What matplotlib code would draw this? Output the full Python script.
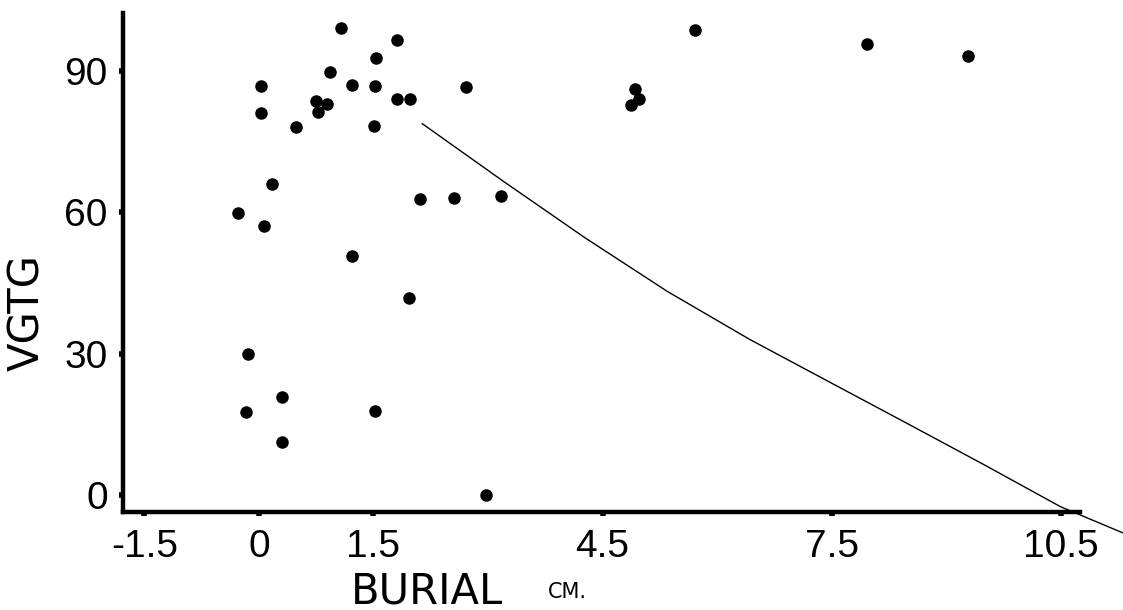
import matplotlib.pyplot as plt

# burial depth (cm) and VGTG for each sample
burial = [1.08, 1.81, 1.53, 0.93, 0.03, 1.22, 1.52, 1.81, 1.98, 0.75,
          0.89, 0.77, 0.03, 1.51, 0.48, 2.71, 5.71, 4.92, 4.98, 4.87,
          7.96, 9.28, 0.17, -0.27, 0.07, 2.11, 2.55, 3.17, 1.22, 1.97,
          -0.14, 0.30, -0.17, 1.52, 0.30, 2.98]
vgtg = [99.1, 96.5, 92.8, 89.7, 86.7, 87.0, 86.9, 84.1, 84.1, 83.7,
        82.9, 81.3, 81.0, 78.4, 78.0, 86.6, 98.6, 86.2, 84.1, 82.7,
        95.8, 93.1, 66.0, 59.9, 57.1, 62.9, 63.1, 63.5, 50.7, 41.8,
        29.9, 20.8, 17.7, 17.8, 11.3, 0.0]

# hand-fitted curve, runs past the end of the x axis
curve_x = [2.14, 3.2, 4.27, 5.35, 6.43, 7.47, 8.5, 9.5, 10.5, 11.31]
curve_y = [78.8, 66.6, 54.6, 43.2, 33.0, 24.0, 15.1, 6.4, -2.5, -8.0]

xticks = [-1.5, 0, 1.5, 4.5, 7.5, 10.5]
xtick_labels = ['-1.5', '0', '1.5', '4.5', '7.5', '10.5']
yticks = [0, 30, 60, 90]
ytick_labels = ['0', '30', '60', '90']

tick_font = ['Liberation Sans', 'DejaVu Sans']

fig = plt.figure(figsize=(11.23, 6.10), dpi=100)
ax = fig.add_axes([0.1095, 0.1607, 0.852, 0.818])

ax.plot(burial, vgtg, 'o', color='black', markersize=8)
ax.plot(curve_x, curve_y, '-', color='black', linewidth=1.0, clip_on=False)

ax.set_xlim(-1.78, 10.75)
ax.set_ylim(-3.6, 102.3)

for side in ['top', 'right']:
    ax.spines[side].set_visible(False)
for side in ['left', 'bottom']:
    ax.spines[side].set_linewidth(3.2)

ax.set_xticks(xticks)
ax.set_xticklabels(xtick_labels, family=tick_font, fontsize=28)
ax.set_yticks(yticks)
ax.set_yticklabels(ytick_labels, family=tick_font, fontsize=28)
ax.tick_params(axis='both', direction='out', length=3, width=4, color='black')
ax.tick_params(axis='x', pad=9)
ax.tick_params(axis='y', pad=8)

fig.text(27.5 / 1123, 1 - 313 / 610, 'VGTG', rotation=90, ha='center',
         va='center', fontsize=30, family='DejaVu Sans')
fig.text(427 / 1123, 7 / 610, 'BURIAL', ha='center', va='baseline',
         fontsize=30, family='DejaVu Sans')
fig.text(567 / 1123, 12 / 610, 'CM.', ha='center', va='baseline',
         fontsize=15, family='DejaVu Sans')

fig.savefig('out.png', dpi=100)
